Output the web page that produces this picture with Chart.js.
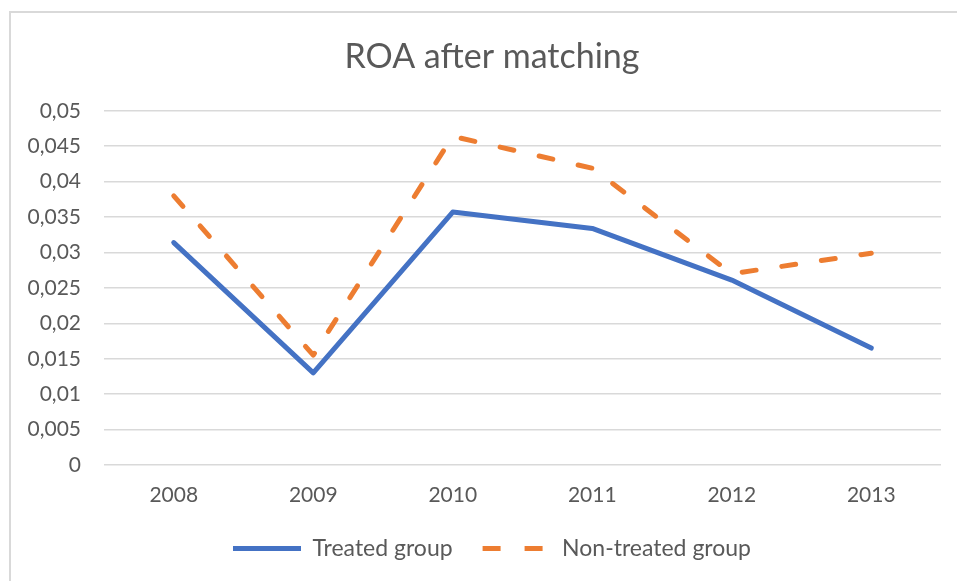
<!DOCTYPE html>
<html>
<head>
<meta charset="utf-8">
<script src="https://cdn.jsdelivr.net/npm/chart.js@4/dist/chart.umd.min.js"></script>
<style>
  html, body { margin: 0; padding: 0; background: #fff; overflow: hidden; }
  body { width: 957px; height: 581px; position: relative; }
  #frame { position: absolute; left: 9px; top: 11px; width: 1000px; height: 1000px; border: 2px solid #d9d9d9; }
  #chart { position: absolute; left: 10px; top: 12px; }
</style>
</head>
<body>
<div id="frame"></div>
<canvas id="chart" width="964" height="569"></canvas>
<script>
// data
const years = ['2008', '2009', '2010', '2011', '2012', '2013'];
const treated = [0.0314, 0.0130, 0.0357, 0.0334, 0.0261, 0.0165];
const nonTreated = [0.0380, 0.0155, 0.0464, 0.0419, 0.0270, 0.0299];
const yTicks = [0, 0.005, 0.01, 0.015, 0.02, 0.025, 0.03, 0.035, 0.04, 0.045, 0.05];

const FONT = 'Lato, "Open Sans", sans-serif';
const GREY = '#595959';

// 0.015 -> "0,015"
const commaNum = (v) => String(+v.toFixed(3)).replace('.', ',');

new Chart(document.getElementById('chart'), {
    type: 'line',
    data: {
        labels: years,
        datasets: [{
            label: 'Treated group',
            data: treated,
            borderColor: '#4472C4',
            backgroundColor: '#4472C4',
            borderWidth: 5,
            borderCapStyle: 'round',
            borderJoinStyle: 'round',
            pointRadius: 0,
            tension: 0,
        }, {
            label: 'Non-treated group',
            data: nonTreated,
            borderColor: '#ED7D31',
            backgroundColor: '#ED7D31',
            borderWidth: 5,
            borderDash: [14, 26],
            borderCapStyle: 'round',
            borderJoinStyle: 'round',
            pointRadius: 0,
            tension: 0,
        }],
    },
    options: {
        responsive: false,
        animation: false,
        layout: { padding: { left: 0, right: 0, top: 0, bottom: 11 } },
        plugins: {
            tooltip: { enabled: false },
            title: {
                display: true,
                text: 'ROA after matching',
                color: GREY,
                font: { family: FONT, size: 34, weight: 'normal' },
                padding: { top: 25, bottom: 33 },
            },
            legend: {
                position: 'bottom',
                labels: {
                    color: GREY,
                    font: { family: FONT, size: 23 },
                    usePointStyle: true,
                    pointStyle: 'line',
                    pointStyleWidth: 68,
                    padding: 30,
                    // legend dashes are a bit longer than the line's
                    generateLabels: function(chart) {
                        const items = Chart.defaults.plugins.legend.labels.generateLabels(chart);
                        items.forEach(function(it) {
                            it.pointStyle = 'line';
                            if (it.datasetIndex === 1) it.lineDash = [18, 24];
                        });
                        return items;
                    },
                },
            },
        },
        scales: {
            x: {
                offset: true,
                grid: { display: false, drawTicks: false },
                border: { display: false },
                ticks: { color: GREY, font: { family: FONT, size: 21, lineHeight: 1 }, padding: 20 },
                afterFit: (scale) => { scale.height = 42; },
            },
            y: {
                min: 0,
                max: 0.05,
                afterBuildTicks: (scale) => { scale.ticks = yTicks.map((v) => ({ value: v })); },
                grid: { color: '#d9d9d9', lineWidth: 1.5, drawTicks: false },
                border: { display: false },
                ticks: {
                    color: GREY,
                    font: { family: FONT, size: 21 },
                    padding: 23,
                    callback: (v) => commaNum(v),
                },
                afterFit: (scale) => { scale.width = 94; },
            },
            // empty right-hand spacer so title and legend centre where the original has them
            spacer: {
                type: 'linear',
                position: 'right',
                min: 0,
                max: 1,
                grid: { display: false, drawTicks: false },
                border: { display: false },
                ticks: { display: false },
                afterFit: (scale) => { scale.width = 33; },
            },
        },
    },
});
</script>
</body>
</html>
